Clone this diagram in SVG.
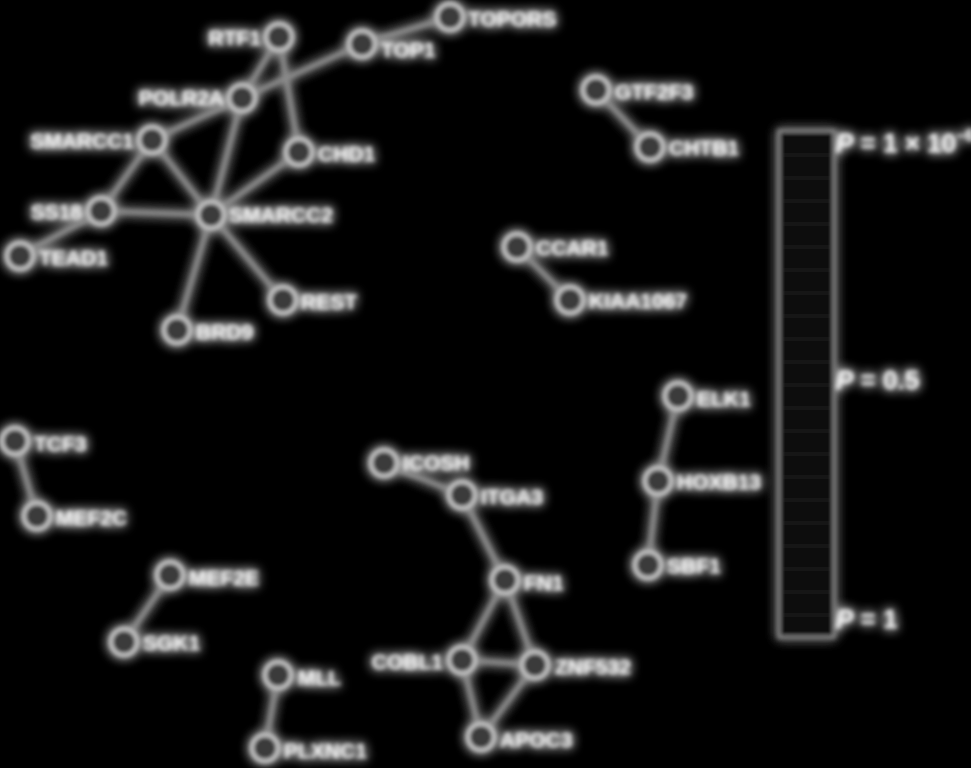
<svg xmlns="http://www.w3.org/2000/svg" width="971" height="768" viewBox="0 0 971 768">
<defs>
<filter id="glow" x="-10%" y="-10%" width="120%" height="120%">
<feGaussianBlur in="SourceGraphic" stdDeviation="2.2" result="b1"/>
<feGaussianBlur in="SourceGraphic" stdDeviation="6" result="b2"/>
<feMerge><feMergeNode in="b2"/><feMergeNode in="b2"/><feMergeNode in="b1"/></feMerge>
</filter>
</defs>
<style>
.e{stroke:#8a8a8a;stroke-width:5;fill:none}
.n{fill:#3a3a3a;stroke:#d0d0d0;stroke-width:3.5}
.t{font-family:"Liberation Sans",Arial,sans-serif;font-weight:bold;font-size:21px;fill:#f4f4f4;dominant-baseline:central}
.l{text-anchor:end}
.p{font-family:"Liberation Sans",Arial,sans-serif;font-weight:bold;font-size:26px;fill:#f4f4f4}
</style>
<rect width="971" height="768" fill="#000"/>
<g filter="url(#glow)">
<g id="edges">
<line class="e" x1="279" y1="37" x2="242" y2="98"/>
<line class="e" x1="279" y1="37" x2="299" y2="152"/>
<line class="e" x1="242" y1="98" x2="362" y2="44"/>
<line class="e" x1="362" y1="44" x2="450" y2="17"/>
<line class="e" x1="242" y1="98" x2="152" y2="140"/>
<line class="e" x1="242" y1="98" x2="211" y2="215"/>
<line class="e" x1="152" y1="140" x2="211" y2="215"/>
<line class="e" x1="152" y1="140" x2="101" y2="211"/>
<line class="e" x1="101" y1="211" x2="211" y2="215"/>
<line class="e" x1="101" y1="211" x2="20" y2="256"/>
<line class="e" x1="211" y1="215" x2="299" y2="152"/>
<line class="e" x1="211" y1="215" x2="177" y2="330"/>
<line class="e" x1="211" y1="215" x2="283" y2="300"/>
<line class="e" x1="596" y1="90" x2="650" y2="147"/>
<line class="e" x1="517" y1="247" x2="570" y2="300"/>
<line class="e" x1="678" y1="396" x2="658" y2="481"/>
<line class="e" x1="658" y1="481" x2="648" y2="565"/>
<line class="e" x1="15" y1="441" x2="37" y2="516"/>
<line class="e" x1="170" y1="575" x2="124" y2="642"/>
<line class="e" x1="384" y1="463" x2="462" y2="495"/>
<line class="e" x1="462" y1="495" x2="505" y2="580"/>
<line class="e" x1="505" y1="580" x2="462" y2="660"/>
<line class="e" x1="505" y1="580" x2="535" y2="665"/>
<line class="e" x1="462" y1="660" x2="535" y2="665"/>
<line class="e" x1="462" y1="660" x2="481" y2="737"/>
<line class="e" x1="535" y1="665" x2="481" y2="737"/>
<line class="e" x1="278" y1="675" x2="265" y2="748"/>
</g>
<g id="n-RTF1"><circle class="n" cx="279" cy="37" r="13"/><text class="t l" x="261" y="37">RTF1</text></g>
<g id="n-TOP1"><circle class="n" cx="362" cy="44" r="13"/><text class="t" x="381" y="49">TOP1</text></g>
<g id="n-TOPORS"><circle class="n" cx="450" cy="17" r="13"/><text class="t" x="468" y="18">TOPORS</text></g>
<g id="n-POLR2A"><circle class="n" cx="242" cy="98" r="13"/><text class="t l" x="224" y="97">POLR2A</text></g>
<g id="n-SMARCC1"><circle class="n" cx="152" cy="140" r="13"/><text class="t l" x="134" y="140">SMARCC1</text></g>
<g id="n-CHD1"><circle class="n" cx="299" cy="152" r="13"/><text class="t" x="318" y="153">CHD1</text></g>
<g id="n-SS18"><circle class="n" cx="101" cy="211" r="13"/><text class="t l" x="82" y="211">SS18</text></g>
<g id="n-SMARCC2"><circle class="n" cx="211" cy="215" r="13"/><text class="t" x="229" y="214">SMARCC2</text></g>
<g id="n-TEAD1"><circle class="n" cx="20" cy="256" r="13"/><text class="t" x="39" y="257">TEAD1</text></g>
<g id="n-BRD9"><circle class="n" cx="177" cy="330" r="13"/><text class="t" x="196" y="331">BRD9</text></g>
<g id="n-REST"><circle class="n" cx="283" cy="300" r="13"/><text class="t" x="301" y="301">REST</text></g>
<g id="n-GTF2F3"><circle class="n" cx="596" cy="90" r="13"/><text class="t" x="615" y="91">GTF2F3</text></g>
<g id="n-CHTB1"><circle class="n" cx="650" cy="147" r="13"/><text class="t" x="669" y="147">CHTB1</text></g>
<g id="n-CCAR1"><circle class="n" cx="517" cy="247" r="13"/><text class="t" x="536" y="247">CCAR1</text></g>
<g id="n-KIAA1067"><circle class="n" cx="570" cy="300" r="13"/><text class="t" x="589" y="300">KIAA1067</text></g>
<g id="n-ELK1"><circle class="n" cx="678" cy="396" r="13"/><text class="t" x="697" y="398">ELK1</text></g>
<g id="n-HOXB13"><circle class="n" cx="658" cy="481" r="13"/><text class="t" x="677" y="481">HOXB13</text></g>
<g id="n-SBF1"><circle class="n" cx="648" cy="565" r="13"/><text class="t" x="667" y="565">SBF1</text></g>
<g id="n-TCF3"><circle class="n" cx="15" cy="441" r="13"/><text class="t" x="34" y="443">TCF3</text></g>
<g id="n-MEF2C"><circle class="n" cx="37" cy="516" r="13"/><text class="t" x="56" y="517">MEF2C</text></g>
<g id="n-MEF2E"><circle class="n" cx="170" cy="575" r="13"/><text class="t" x="189" y="577">MEF2E</text></g>
<g id="n-SGK1"><circle class="n" cx="124" cy="642" r="13"/><text class="t" x="143" y="642">SGK1</text></g>
<g id="n-ICOSH"><circle class="n" cx="384" cy="463" r="13"/><text class="t" x="403" y="462">ICOSH</text></g>
<g id="n-ITGA3"><circle class="n" cx="462" cy="495" r="13"/><text class="t" x="481" y="496">ITGA3</text></g>
<g id="n-FN1"><circle class="n" cx="505" cy="580" r="13"/><text class="t" x="524" y="582">FN1</text></g>
<g id="n-COBL1"><circle class="n" cx="462" cy="660" r="13"/><text class="t l" x="443" y="661">COBL1</text></g>
<g id="n-ZNF532"><circle class="n" cx="535" cy="665" r="13"/><text class="t" x="555" y="666">ZNF532</text></g>
<g id="n-APOC3"><circle class="n" cx="481" cy="737" r="13"/><text class="t" x="500" y="739">APOC3</text></g>
<g id="n-MLL"><circle class="n" cx="278" cy="675" r="13"/><text class="t" x="298" y="677">MLL</text></g>
<g id="n-PLXNC1"><circle class="n" cx="265" cy="748" r="13"/><text class="t" x="284" y="750">PLXNC1</text></g>
<g id="legend">
<rect x="779" y="131" width="55" height="506" fill="#0c0c0c" stroke="#8a8a8a" stroke-width="3"/>
<g stroke="#262626" stroke-width="1.5">
<line x1="781" y1="155" x2="832" y2="155"/><line x1="781" y1="178" x2="832" y2="178"/><line x1="781" y1="201" x2="832" y2="201"/><line x1="781" y1="224" x2="832" y2="224"/><line x1="781" y1="247" x2="832" y2="247"/><line x1="781" y1="270" x2="832" y2="270"/><line x1="781" y1="293" x2="832" y2="293"/><line x1="781" y1="316" x2="832" y2="316"/><line x1="781" y1="339" x2="832" y2="339"/><line x1="781" y1="362" x2="832" y2="362"/><line x1="781" y1="385" x2="832" y2="385"/><line x1="781" y1="408" x2="832" y2="408"/><line x1="781" y1="431" x2="832" y2="431"/><line x1="781" y1="454" x2="832" y2="454"/><line x1="781" y1="477" x2="832" y2="477"/><line x1="781" y1="500" x2="832" y2="500"/><line x1="781" y1="523" x2="832" y2="523"/><line x1="781" y1="546" x2="832" y2="546"/><line x1="781" y1="569" x2="832" y2="569"/><line x1="781" y1="592" x2="832" y2="592"/><line x1="781" y1="615" x2="832" y2="615"/>
</g>
<text class="p" x="836" y="152"><tspan font-style="italic">P</tspan> = 1 × 10<tspan font-size="16" dy="-11">−6</tspan></text>
<text class="p" x="836" y="389"><tspan font-style="italic">P</tspan> = 0.5</text>
<text class="p" x="836" y="628"><tspan font-style="italic">P</tspan> = 1</text>
</g>
</g>
</svg>
